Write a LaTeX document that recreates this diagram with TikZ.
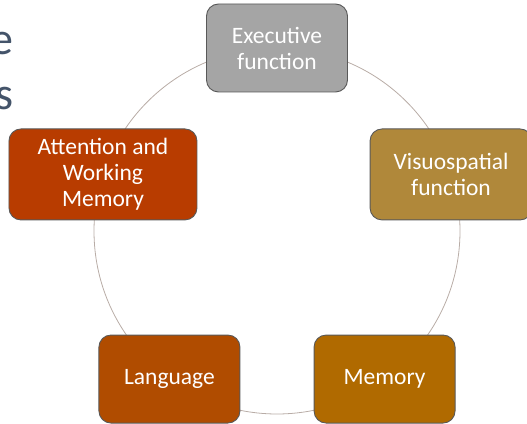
\documentclass[tikz,border=0pt]{standalone}
\usepackage{fontspec}
\setmainfont{Carlito}
\usetikzlibrary{calc}
\definecolor{ringline}{HTML}{B8ACA6}
\definecolor{slidetext}{HTML}{44546A}
\definecolor{execgray}{HTML}{A5A5A5}
\definecolor{attnred}{HTML}{B83C00}
\definecolor{visugold}{HTML}{B0883A}
\definecolor{langorange}{HTML}{B04C00}
\definecolor{memamber}{HTML}{B06A00}

\begin{document}
\begin{tikzpicture}[
        x=1pt, y=1pt,
        font=\fontsize{23.5}{26}\selectfont,
        domainbox/.style={
          draw=black!65,
          line width=0.9pt,
          rounded corners=12pt,
          minimum width=141pt,
          minimum height=88pt,
          align=center,
          text=white,
          inner sep=4pt
        },
        ring/.style={draw=ringline, line width=0.8pt},
        slide/.style={text=slidetext, font=\fontsize{46}{55}\selectfont, inner sep=0pt}
      ]

      \useasboundingbox (0,0) rectangle (527,423);
      \clip (0,0) rectangle (527,423);

      \coordinate (c) at (277,192);
      \draw[ring] (c) circle (183);

      % cropped slide text
      \node[slide, anchor=base east] (tite) at (14,368) {e};
      \node[slide, anchor=base east] (tits) at (14,313) {s};

      \node[domainbox, fill=execgray] (exec) at ($(c)+(90:183)$) {Executive\\function};
      \node[domainbox, fill=visugold, minimum width=162pt, minimum height=91pt] (visu) at ($(c)+(18:183)$) {Visuospatial\\function};
      \node[domainbox, fill=memamber] (mem) at ($(c)+(-54:183)$) {Memory};
      \node[domainbox, fill=langorange] (lang) at ($(c)+(234:183)$) {Language};
      \node[domainbox, fill=attnred, minimum width=188pt, minimum height=91pt] (attn) at ($(c)+(162:183)$) {Attention and\\Working\\Memory};
    \end{tikzpicture}
\end{document}
